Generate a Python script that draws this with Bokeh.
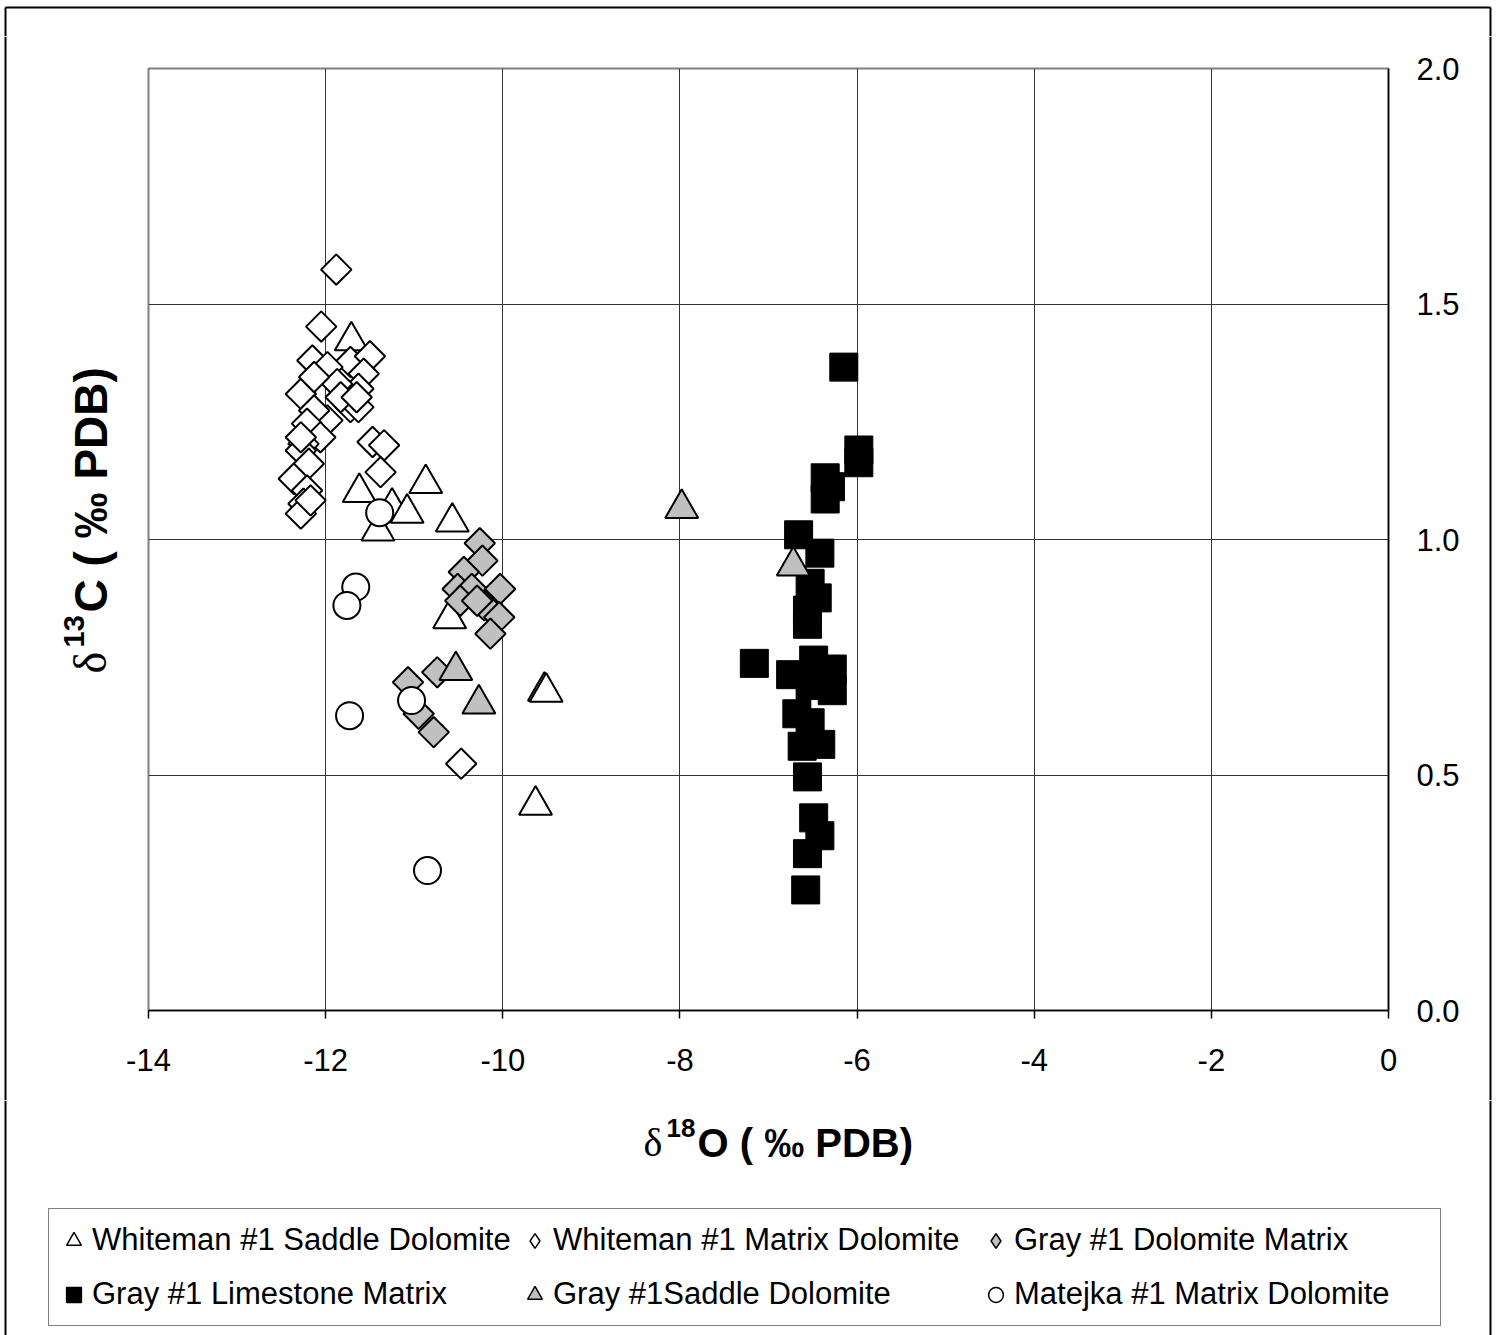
import numpy as np
from bokeh.plotting import figure
from bokeh.layouts import column, row
from bokeh.models import Range1d, FixedTicker, Legend, LegendItem
from bokeh.core.properties import value
from bokeh.embed import file_html
from bokeh.resources import INLINE

# ---------------- data ----------------
series_names = [
    "Whiteman #1 Saddle Dolomite",
    "Whiteman #1 Matrix Dolomite",
    "Gray #1 Dolomite Matrix",
    "Gray #1 Limestone Matrix",
    "Gray #1Saddle Dolomite",
    "Matejka #1 Matrix Dolomite",
]

# Whiteman #1 Saddle Dolomite (open triangles)
ws_x = [-11.71, -11.62, -10.87, -11.25, -11.08, -11.41, -10.57, -10.60, -9.53, -9.51, -9.63]
ws_y = [1.422, 1.100, 1.119, 1.069, 1.056, 1.018, 1.037, 0.832, 0.678, 0.676, 0.436]

# Whiteman #1 Matrix Dolomite (open diamonds)
wm_x = [-11.88, -12.05, -11.72, -11.50, -12.15, -11.98, -12.28, -11.57, -11.63, -11.72,
        -11.63, -11.98, -12.13, -12.21, -12.06, -12.25, -12.28, -12.19, -12.36, -12.21,
        -12.25, -12.28, -11.47, -11.34, -11.38, -11.87, -11.83, -11.65, -12.13, -12.28,
        -12.17, -10.47]
wm_y = [1.573, 1.452, 1.377, 1.389, 1.380, 1.366, 1.309, 1.352, 1.320, 1.281,
        1.281, 1.253, 1.274, 1.246, 1.217, 1.203, 1.189, 1.161, 1.129, 1.104,
        1.076, 1.055, 1.207, 1.200, 1.143, 1.330, 1.302, 1.302, 1.345, 1.217,
        1.083, 0.524]

# Gray #1 Dolomite Matrix (gray diamonds)
gd_x = [-10.26, -10.23, -10.44, -10.51, -10.35, -10.03, -10.48, -10.21, -10.04, -10.14,
        -10.29, -10.74, -11.07, -10.95, -10.78]
gd_y = [0.992, 0.955, 0.931, 0.895, 0.895, 0.895, 0.870, 0.860, 0.835, 0.800,
        0.870, 0.718, 0.697, 0.630, 0.591]

# Gray #1 Limestone Matrix (black squares)
gl_x = [-6.15, -5.98, -5.98, -6.30, -6.36, -6.36, -6.66, -6.42, -6.53, -6.45,
        -6.56, -6.56, -7.16, -6.49, -6.75, -6.28, -6.28, -6.53, -6.68, -6.53,
        -6.62, -6.41, -6.56, -6.49, -6.42, -6.56, -6.58]
gl_y = [1.366, 1.190, 1.163, 1.112, 1.131, 1.086, 1.010, 0.971, 0.907, 0.876,
        0.850, 0.820, 0.737, 0.744, 0.713, 0.725, 0.679, 0.690, 0.630, 0.611,
        0.561, 0.565, 0.496, 0.409, 0.371, 0.333, 0.256]

# Gray #1 Saddle Dolomite (gray triangles)
gs_x = [-10.53, -10.27, -7.98, -6.72]
gs_y = [0.722, 0.651, 1.066, 0.944]

# Matejka #1 Matrix Dolomite (open circles)
mm_x = [-11.39, -11.66, -11.76, -11.73, -11.03, -10.85]
mm_y = [1.057, 0.899, 0.860, 0.626, 0.658, 0.297]

x_ticks = [-14, -12, -10, -8, -6, -4, -2, 0]
x_tick_labels = ["-14", "-12", "-10", "-8", "-6", "-4", "-2", "0"]
y_ticks = [0.0, 0.5, 1.0, 1.5, 2.0]
y_tick_labels = ["0.0", "0.5", "1.0", "1.5", "2.0"]

x_title = ["δ", "18", "O ( ‰ PDB)"]
y_title = ["δ", "13", "C ( ‰ PDB)"]

# ---------------- page geometry (pixels) ----------------
W, H = 1497, 1335
FL, FR, FT, FB = 148, 1388, 68, 1010      # plot frame in page pixels
TOP_H = 36                                 # strip above the main figure
MID_H = 1100 - TOP_H                       # main figure height
BOT_H = H - TOP_H - MID_H
LEFT_W = 118
RIGHT_W = 9
MAIN_W = W - LEFT_W - RIGHT_W
BL, BT, BR = 5, 7, 1490                    # outer border lines
BORDER = dict(line_color="black", line_width=2)
TFS = "40px"
SFS = "26px"
YTFS = "46px"
YSFS = "29px"
gray = "#c0c0c0"


def blank(w, h):
    f = figure(width=w, height=h, x_range=Range1d(0, w), y_range=Range1d(h, 0),
               x_axis_location=None, y_axis_location=None,
               output_backend="svg", toolbar_location=None,
               min_border=0, min_border_left=0, min_border_right=0,
               min_border_top=0, min_border_bottom=0, align="start")
    f.grid.visible = False
    f.outline_line_color = None
    f.background_fill_color = "white"
    f.border_fill_color = "white"
    return f


# ---------------- main plot ----------------
p = figure(width=MAIN_W, height=MID_H, x_range=Range1d(-14, 0), y_range=Range1d(0, 2.0),
           y_axis_location="right", output_backend="svg", toolbar_location=None,
           min_border_left=FL - LEFT_W, min_border_right=W - RIGHT_W - FR,
           min_border_top=FT - TOP_H, min_border_bottom=TOP_H + MID_H - FB, align="start")
p.background_fill_color = "white"
p.border_fill_color = "white"
p.outline_line_color = "#808080"
p.outline_line_width = 2

p.xgrid.ticker = FixedTicker(ticks=x_ticks)
p.ygrid.ticker = FixedTicker(ticks=y_ticks)
for g in (p.xgrid, p.ygrid):
    g.grid_line_color = "#333333"
    g.grid_line_width = 1

p.xaxis.ticker = FixedTicker(ticks=x_ticks)
p.yaxis.ticker = FixedTicker(ticks=y_ticks)
p.xaxis.major_label_overrides = dict(zip(x_ticks, x_tick_labels))
p.yaxis.major_label_overrides = dict(zip(y_ticks, y_tick_labels))
for ax in (p.xaxis, p.yaxis):
    ax.axis_line_color = "black"
    ax.axis_line_width = 1.5
    ax.major_tick_line_color = "black"
    ax.major_tick_line_width = 1.5
    ax.minor_tick_line_color = None
    ax.major_label_text_font = "Liberation Sans"
    ax.major_label_text_font_size = "31px"
    ax.major_label_text_color = "black"
p.xaxis.major_tick_in = 0
p.xaxis.major_tick_out = 8
p.xaxis.major_label_standoff = 30
p.yaxis.major_tick_in = 0
p.yaxis.major_tick_out = 0
p.yaxis.major_label_standoff = 28

styles = [
    dict(marker="triangle", size=33, fill_color="white", line_color="black", line_width=2),
    dict(marker="square", angle=np.pi / 4, size=21.5, fill_color="white", line_color="black", line_width=2),
    dict(marker="square", angle=np.pi / 4, size=21.5, fill_color=gray, line_color="black", line_width=2),
    dict(marker="square", size=28, fill_color="black", line_color="black", line_width=1),
    dict(marker="triangle", size=33, fill_color=gray, line_color="black", line_width=2),
    dict(marker="circle", size=27, fill_color="white", line_color="black", line_width=2),
]
series = [(ws_x, ws_y), (wm_x, wm_y), (gd_x, gd_y), (gl_x, gl_y), (gs_x, gs_y), (mm_x, mm_y)]
for (sx, sy), st in zip(series, styles):
    p.scatter(sx, sy, **st)

# ---------------- surrounding strips ----------------
top = blank(W, TOP_H)
top.segment(x0=[BL, BL, BR], y0=[BT, BT, BT], x1=[BR, BL, BR], y1=[BT, TOP_H, TOP_H], **BORDER)

left = blank(LEFT_W, MID_H)
left.segment(x0=[BL], y0=[0], x1=[BL], y1=[MID_H], **BORDER)
# y-axis title (rotated, reading upward); anchor = baseline start
yb_x, yb_y = 90, 673 - TOP_H
left.text(x=[yb_x], y=[yb_y], text=[y_title[0]], angle=np.pi / 2,
          text_font=value("Liberation Serif"), text_font_size=value(YTFS),
          text_baseline="alphabetic", text_align="left", text_color="black")
left.text(x=[yb_x - 17], y=[yb_y - 26], text=[y_title[1]], angle=np.pi / 2,
          text_font=value("Liberation Sans"), text_font_style="bold", text_font_size=value(YSFS),
          text_baseline="alphabetic", text_align="left", text_color="black")
left.text(x=[yb_x], y=[yb_y - 61], text=[y_title[2]], angle=np.pi / 2,
          text_font=value("Liberation Sans"), text_font_style="bold", text_font_size=value(YTFS),
          text_baseline="alphabetic", text_align="left", text_color="black")

right = blank(RIGHT_W, MID_H)
right.segment(x0=[BR - (W - RIGHT_W)], y0=[0], x1=[BR - (W - RIGHT_W)], y1=[MID_H], **BORDER)

bot = blank(W, BOT_H)
bot.segment(x0=[BL, BR], y0=[0, 0], x1=[BL, BR], y1=[BOT_H, BOT_H], **BORDER)
# x-axis title
xb_x, xb_y = 643, 1142 - TOP_H - MID_H
bot.text(x=[xb_x], y=[xb_y], text=[x_title[0]],
         text_font=value("Liberation Serif"), text_font_size=value(TFS),
         text_baseline="alphabetic", text_align="left", text_color="black")
bot.text(x=[xb_x + 23], y=[xb_y - 15], text=[x_title[1]],
         text_font=value("Liberation Sans"), text_font_style="bold", text_font_size=value(SFS),
         text_baseline="alphabetic", text_align="left", text_color="black")
bot.text(x=[xb_x + 54], y=[xb_y], text=[x_title[2]],
         text_font=value("Liberation Sans"), text_font_style="bold", text_font_size=value(TFS),
         text_baseline="alphabetic", text_align="left", text_color="black")

# legend (glyph stand-ins styled like the series, each with one point outside the view)
leg_styles = [
    dict(marker="triangle", fill_color="white"),
    dict(marker="diamond", fill_color="white"),
    dict(marker="diamond", fill_color=gray),
    dict(marker="square", fill_color="black"),
    dict(marker="triangle", fill_color=gray),
    dict(marker="circle", fill_color="white"),
]
leg_renderers = [bot.scatter(x=[-1000], y=[-1000], size=10, line_color="black", line_width=1.5, **st)
                 for st in leg_styles]
legend = Legend(items=[LegendItem(label=n, renderers=[r]) for n, r in zip(series_names, leg_renderers)],
                location=(48, 9), orientation="horizontal", ncols=3,
                glyph_width=37, glyph_height=37, label_standoff=0, label_width=420,
                label_height=50, spacing=4, padding=6, margin=0,
                label_text_font="Liberation Sans", label_text_font_size="31px",
                label_text_color="black", border_line_color="black",
                border_line_width=1.5, background_fill_color="white",
                background_fill_alpha=1.0)
bot.add_layout(legend, "center")

mid = row(column(left, spacing=0), column(p, spacing=0), column(right, spacing=0), spacing=0)
layout = column(top, mid, bot, spacing=0)
open("out.html", "w").write(file_html(layout, INLINE))
